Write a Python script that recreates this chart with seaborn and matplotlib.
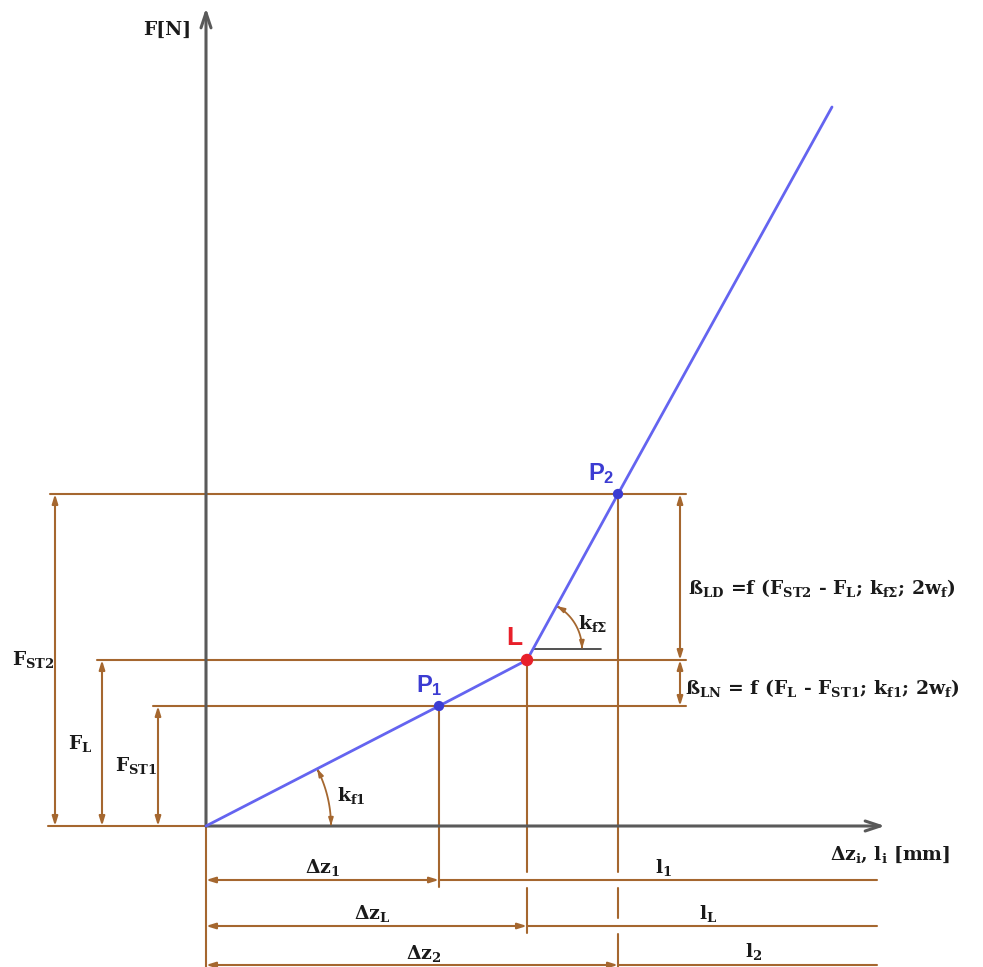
import numpy as np
import pandas as pd
import matplotlib
matplotlib.use("Agg")
import matplotlib.pyplot as plt
from matplotlib.patches import FancyArrowPatch
from matplotlib.path import Path
import seaborn as sns

# Characteristic points: deflection dz and force F (drawing units)
point_names = ["P1", "L", "P2"]
point_dz = [233, 321, 412]
point_F = [120, 166, 332]

# Spring line: origin, the three points, then the steep branch end
curve_dz = [0, 233, 321, 412, 626]
curve_F = [0, 120, 166, 332, 719]

force_labels = ["F$_{ST1}$", "F$_{L}$", "F$_{ST2}$"]
dz_labels = [r"$\Delta$z$_1$", r"$\Delta$z$_L$", r"$\Delta$z$_2$"]
l_labels = ["l$_1$", "l$_L$", "l$_2$"]
beta_labels = ["ß$_{LN}$ = f (F$_L$ - F$_{ST1}$; k$_{f1}$; 2w$_f$)",
               r"ß$_{LD}$ =f (F$_{ST2}$ - F$_L$; k$_{f\Sigma}$; 2w$_f$)"]

sns.set_theme(style="white")
plt.rcParams["font.family"] = ["DejaVu Serif"]
plt.rcParams["font.weight"] = "bold"
plt.rcParams["mathtext.fontset"] = "custom"
plt.rcParams["mathtext.rm"] = "DejaVu Serif:bold"
plt.rcParams["mathtext.it"] = "DejaVu Serif:bold"
plt.rcParams["mathtext.bf"] = "DejaVu Serif:bold"
plt.rcParams["mathtext.sf"] = "Liberation Sans:bold"

BROWN = "#a5672f"
GREY = "#5a5a5a"
BLUE_LINE = "#6464f0"
BLUE = "#3c3cd2"
RED = "#e8202a"
TXT = "#1a1a1a"
FS = 13.5

fig = plt.figure(figsize=(9.83, 9.67), dpi=100)
ax = fig.add_axes([0, 0, 1, 1])
ax.set_xlim(-206, 777)
ax.set_ylim(-141, 826)
ax.set_axis_off()

lw_dim = 1.5
dim_arrow = "<|-|>,head_length=0.45,head_width=0.14"


def dim(x0, y0, x1, y1, style=dim_arrow):
    ax.annotate("", xy=(x1, y1), xytext=(x0, y0),
                arrowprops=dict(arrowstyle=style, color=BROWN, lw=lw_dim,
                                shrinkA=0, shrinkB=0), zorder=2)


def angle_arc(cx, cy, r, a_from, a_to):
    t = np.linspace(a_from, a_to, 40)
    verts = np.column_stack([cx + r * np.cos(t), cy + r * np.sin(t)])
    arc = FancyArrowPatch(path=Path(verts),
                          arrowstyle="<|-|>,head_length=0.45,head_width=0.14",
                          mutation_scale=10, color=BROWN, lw=1.3, zorder=3)
    ax.add_patch(arc)


# Axes arrows
ax.annotate("", xy=(0, 818), xytext=(0, 0),
            arrowprops=dict(arrowstyle="->,head_length=0.9,head_width=0.3",
                            color=GREY, lw=2.2, shrinkA=0, shrinkB=0), zorder=3)
ax.annotate("", xy=(679, 0), xytext=(0, 0),
            arrowprops=dict(arrowstyle="->,head_length=0.9,head_width=0.3",
                            color=GREY, lw=2.2, shrinkA=0, shrinkB=0), zorder=3)
ax.text(-39, 796, "F[N]", ha="center", va="center", fontsize=FS, color=TXT)
ax.text(744, -29, r"$\Delta$z$_i$, l$_i$ [mm]", ha="right", va="center",
        fontsize=FS, color=TXT)

# Force levels: horizontal extension lines and left dimensions
left_dim_x = [-48, -104, -151]
ext_right = 480
for F, xd, lab in zip(point_F, left_dim_x, force_labels):
    ax.plot([xd - 5, ext_right], [F, F], color=BROWN, lw=lw_dim, zorder=1)
    dim(xd, 0, xd, F)
    ax.text(xd - 22, F / 2, lab, ha="center", va="center", fontsize=FS, color=TXT)
ax.plot([-158, 0], [0, 0], color=BROWN, lw=lw_dim, zorder=1)

# Right dimensions (beta ranges)
right_x = 474
dim(right_x, point_F[0], right_x, point_F[1])
dim(right_x, point_F[1], right_x, point_F[2])
ax.text(right_x + 5, (point_F[0] + point_F[1]) / 2 - 5, beta_labels[0],
        ha="left", va="center", fontsize=FS, color=TXT)
ax.text(right_x + 8, (point_F[1] + point_F[2]) / 2 - 11, beta_labels[1],
        ha="left", va="center", fontsize=FS, color=TXT)

# Bottom dimension rows
row_y = [-54, -100, -139]
row_right = 671
half_gap = 8
ax.plot([0, 0], [0, -141], color=BROWN, lw=lw_dim, zorder=1)
for i, (dz, F) in enumerate(zip(point_dz, point_F)):
    y_end = row_y[i] - 7
    breaks = sorted(row_y[:i], reverse=True)
    top = F
    for yb in breaks:
        ax.plot([dz, dz], [top, yb + half_gap], color=BROWN, lw=lw_dim, zorder=1)
        top = yb - half_gap
    ax.plot([dz, dz], [top, y_end], color=BROWN, lw=lw_dim, zorder=1)
    dim(0, row_y[i], dz, row_y[i])
    ax.plot([dz, row_right], [row_y[i], row_y[i]], color=BROWN, lw=lw_dim, zorder=1)
    ax.text(dz / 2 + 6 * i, row_y[i] + 12, dz_labels[i], ha="center",
            va="center", fontsize=FS, color=TXT)
    ax.text((dz + row_right) / 2 + 6, row_y[i] + 13, l_labels[i], ha="center",
            va="center", fontsize=FS, color=TXT)

# Spring characteristic
sns.lineplot(x=curve_dz, y=curve_F, color=BLUE_LINE, lw=2, sort=False,
             ax=ax, zorder=4)
pts = pd.DataFrame({"name": point_names, "dz": point_dz, "F": point_F})
sns.scatterplot(data=pts, x="dz", y="F", hue="name",
                palette={"P1": BLUE, "L": RED, "P2": BLUE},
                s=[55, 80, 55], edgecolor="none", legend=False, ax=ax, zorder=5)

ax.text(point_dz[0] - 10, point_F[0] + 20, r"$\mathsf{P_1}$", ha="center",
        va="center", fontsize=17, color=BLUE)
ax.text(point_dz[2] - 17, point_F[2] + 20, r"$\mathsf{P_2}$", ha="center",
        va="center", fontsize=17, color=BLUE)
ax.text(point_dz[1] - 13, point_F[1] + 22, "L", ha="center", va="center",
        fontsize=19, color=RED, family="Liberation Sans")

# Slope angles
a1 = np.arctan2(point_F[1], point_dz[1])
angle_arc(0, 0, 125, 0, a1)
ax.text(131, 31, "k$_{f1}$", ha="left", va="center", fontsize=FS, color=TXT)

slope2 = (point_F[2] - point_F[1]) / (point_dz[2] - point_dz[1])
cy = point_F[1] + 11
cx = point_dz[1] + 11 / slope2
a2 = np.arctan(slope2)
ax.plot([cx, 395], [cy, cy], color="#333333", lw=1.2, zorder=3)
angle_arc(cx, cy, 49, 0, a2)
ax.text(372, 203, r"k$_{f\Sigma}$", ha="left", va="center", fontsize=FS, color=TXT)

fig.savefig("out.png", dpi=100)
